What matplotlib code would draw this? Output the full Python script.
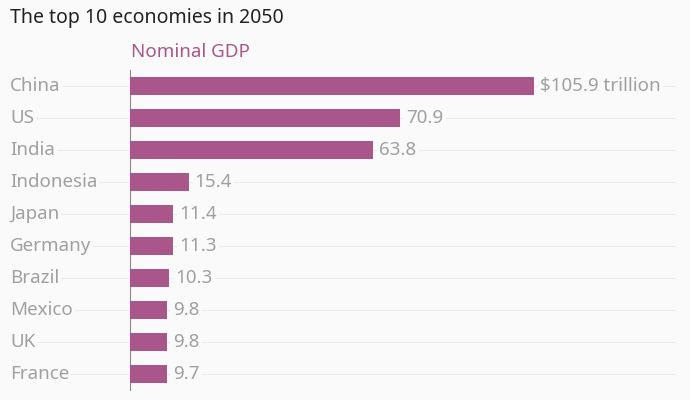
import matplotlib.pyplot as plt

# dados
paises = ["China", "US", "India", "Indonesia", "Japan", "Germany",
          "Brazil", "Mexico", "UK", "France"]
pib = [105.9, 70.9, 63.8, 15.4, 11.4, 11.3, 10.3, 9.8, 9.8, 9.7]
rotulos = ["$105.9 trillion", "70.9", "63.8", "15.4", "11.4", "11.3",
           "10.3", "9.8", "9.8", "9.7"]

fundo = "#fbfafb"
roxo = "#a9568a"
cinza = "#a0a0a0"

plt.rcParams['font.family'] = ['Noto Sans', 'DejaVu Sans']

fig = plt.figure(figsize=(6.9, 4.0), dpi=100, facecolor=fundo)
ax = fig.add_axes([130 / 690, 10 / 400, 545 / 690, 320 / 400])
ax.set_facecolor(fundo)

escala = 545 / 142.9  # px por unidade
xmax = 142.9
xmin_linha = -120 / escala

y = list(range(len(paises)))

# linhas de grade atrás dos rótulos
for i in y:
    ax.plot([xmin_linha, xmax], [i, i], color="#ececec", lw=0.8,
            clip_on=False, zorder=0)

ax.barh(y, pib, height=0.56, color=roxo, zorder=3)

for i, (v, r) in enumerate(zip(pib, rotulos)):
    ax.text(v + 6 / escala, i, r, va="center", ha="left", fontsize=13.5,
            color=cinza, zorder=4,
            bbox=dict(facecolor=fundo, edgecolor="none", pad=1.5))
    ax.text(xmin_linha, i, paises[i], va="center", ha="left", fontsize=13.5,
            color=cinza, zorder=4,
            bbox=dict(facecolor=fundo, edgecolor="none", pad=1.5))

ax.set_xlim(0, xmax)
ax.set_ylim(9.5, -0.5)
ax.set_xticks([])
ax.set_yticks([])
for s in ["top", "right", "bottom"]:
    ax.spines[s].set_visible(False)
ax.spines["left"].set_color("#8a8a8a")
ax.spines["left"].set_linewidth(0.8)

fig.text(10 / 690, 1 - 18 / 400, "The top 10 economies in 2050", fontsize=14,
         color="#222222", va="center", ha="left")
fig.text(131 / 690, 1 - 52 / 400, "Nominal GDP", fontsize=13.5,
         color=roxo, va="center", ha="left")

fig.savefig("out.png", dpi=100, facecolor=fundo)
